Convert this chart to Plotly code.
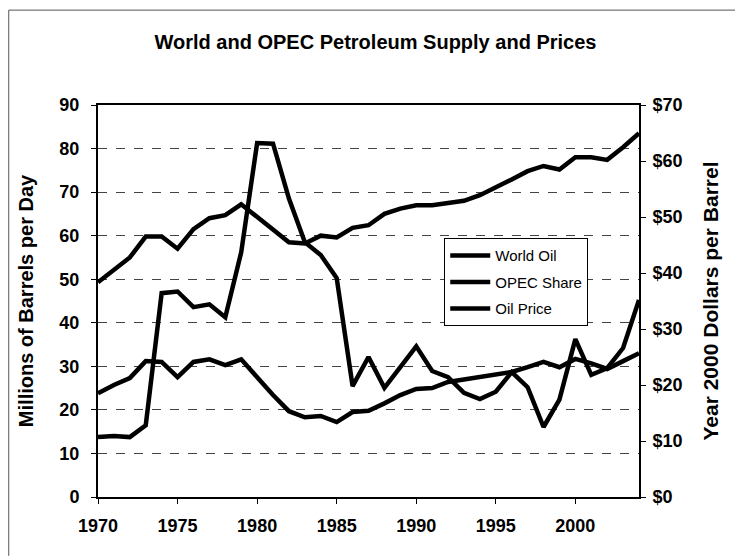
import plotly.graph_objects as go

# years on the x axis
years = list(range(1970, 2005))

# world oil supply, millions of barrels per day (left axis)
world_oil = [49.3, 52.0, 55.0, 59.8, 59.8, 57.0, 61.5, 64.0, 64.7, 67.2,
             64.2, 61.3, 58.5, 58.2, 60.0, 59.6, 61.8, 62.4, 65.0, 66.2,
             67.0, 67.0, 67.4, 68.0, 69.3, 71.0, 72.9, 74.8, 76.0, 75.2,
             78.0, 78.0, 77.4, 80.3, 83.5]

# OPEC supply, millions of barrels per day (left axis)
opec_share = [23.8, 25.7, 27.3, 31.2, 31.0, 27.5, 31.0, 31.6, 30.3, 31.6,
              27.5, 23.4, 19.7, 18.3, 18.6, 17.2, 19.5, 19.8, 21.5, 23.4,
              24.8, 25.0, 26.4, 27.0, 27.5, 28.2, 28.7, 29.8, 31.0, 29.8,
              31.7, 30.7, 29.4, 31.2, 33.0]

# oil price, year 2000 dollars per barrel (right axis)
oil_price = [10.7, 10.9, 10.7, 12.8, 36.4, 36.7, 33.9, 34.4, 32.1, 43.7,
             63.2, 63.1, 53.3, 45.5, 43.2, 39.1, 19.8, 25.0, 19.5, 23.2,
             26.9, 22.5, 21.4, 18.6, 17.5, 18.8, 22.3, 19.6, 12.5, 17.4,
             28.2, 21.8, 23.0, 26.6, 35.2]

left_ticks = list(range(0, 100, 10))
right_ticks = list(range(0, 80, 10))
right_labels = ["$" + str(v) for v in right_ticks]

font = "Arial, Liberation Sans, sans-serif"

fig = go.Figure()
fig.add_trace(go.Scatter(x=years, y=world_oil, name="World Oil", mode="lines",
                         line=dict(color="black", width=4.5), legendgroup="a"))
fig.add_trace(go.Scatter(x=years, y=opec_share, name="OPEC Share", mode="lines",
                         line=dict(color="black", width=4.5), legendgroup="b"))
fig.add_trace(go.Scatter(x=years, y=oil_price, name="Oil Price", mode="lines",
                         line=dict(color="black", width=4.5), legendgroup="c",
                         yaxis="y2"))

# page body adds 8px, so the figure is a little smaller than the window
fig.update_layout(
    width=735, height=548,
    margin=dict(l=90, r=104, t=97, b=59),
    paper_bgcolor="white", plot_bgcolor="white",
    font=dict(family=font, color="black"),
    title=dict(text="World and OPEC Petroleum Supply and Prices",
               x=0.5, xanchor="center", y=0.938, yanchor="middle",
               font=dict(size=20, weight="bold")),
    showlegend=True,
    legend=dict(x=0.64, y=0.66, xanchor="left", yanchor="top",
                bgcolor="white", bordercolor="black", borderwidth=1,
                font=dict(size=15), itemwidth=40, tracegroupgap=4),
    xaxis=dict(range=[1970, 2004], tickmode="array",
               tickvals=[1970, 1975, 1980, 1985, 1990, 1995, 2000],
               ticks="outside", ticklen=5, tickcolor="black",
               ticklabelstandoff=6,
               showline=True, linecolor="black", linewidth=2, mirror=True,
               showgrid=False, zeroline=False,
               tickfont=dict(size=18, weight="bold")),
    yaxis=dict(range=[0, 90], tickmode="array", tickvals=left_ticks,
               ticks="outside", ticklen=5, tickcolor="black",
               ticklabelstandoff=8,
               showline=True, linecolor="black", linewidth=2, mirror=True,
               showgrid=True, gridcolor="#444444", gridwidth=1, griddash="dash",
               zeroline=False,
               tickfont=dict(size=18, weight="bold"),
               title=dict(text="Millions of Barrels per Day", standoff=20,
                          font=dict(size=20, weight="bold"))),
    yaxis2=dict(range=[0, 70], tickmode="array", tickvals=right_ticks,
                ticktext=right_labels, overlaying="y", side="right",
                ticks="outside", ticklen=5, tickcolor="black",
                ticklabelstandoff=3,
                showline=True, linecolor="black", linewidth=2,
                showgrid=False, zeroline=False,
                tickfont=dict(size=18, weight="bold"),
                title=dict(text="Year 2000 Dollars per Barrel", standoff=22,
                           font=dict(size=21, weight="bold"))),
)

# faint frame line along the top and left of the chart area
fig.add_shape(type="line", xref="paper", yref="paper",
              x0=-0.165, x1=1.2, y0=1.242, y1=1.242,
              line=dict(color="#555555", width=1))
fig.add_shape(type="line", xref="paper", yref="paper",
              x0=-0.165, x1=-0.165, y0=-0.15, y1=1.242,
              line=dict(color="#555555", width=1))

fig.write_html("out.html")
